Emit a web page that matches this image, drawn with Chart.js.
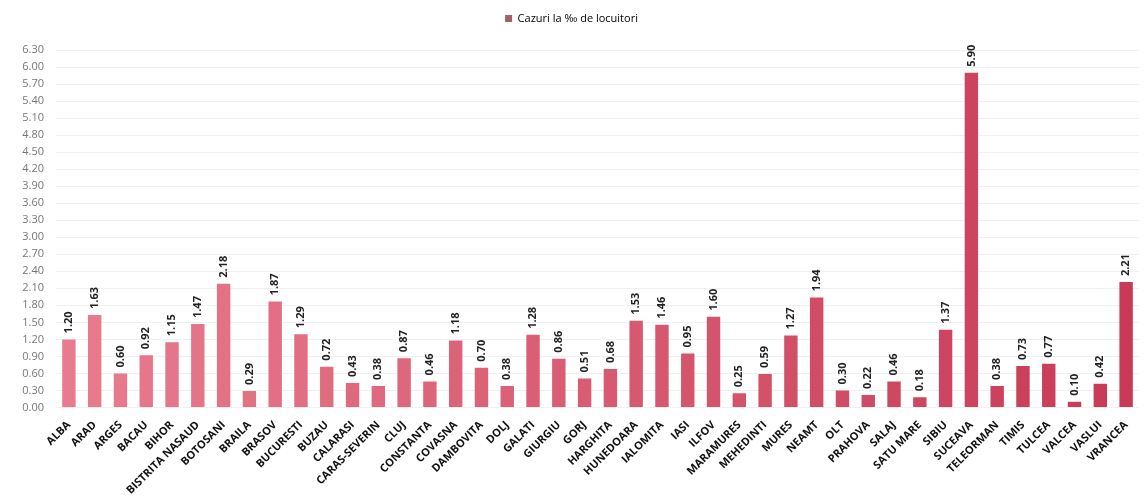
<!DOCTYPE html>
<html>
<head>
<meta charset="utf-8">
<script src="https://cdn.jsdelivr.net/npm/chart.js@4"></script>
<style>
  html, body { margin: 0; padding: 0; background: #fff; }
  #wrap { width: 1145px; height: 500px; }
</style>
</head>
<body>
<div id="wrap"><canvas id="chart"></canvas></div>
<script>
const judete = [
    "ALBA", "ARAD", "ARGES", "BACAU", "BIHOR", "BISTRITA NASAUD", "BOTOSANI",
    "BRAILA", "BRASOV", "BUCURESTI", "BUZAU", "CALARASI", "CARAS-SEVERIN", "CLUJ",
    "CONSTANTA", "COVASNA", "DAMBOVITA", "DOLJ", "GALATI", "GIURGIU", "GORJ",
    "HARGHITA", "HUNEDOARA", "IALOMITA", "IASI", "ILFOV", "MARAMURES", "MEHEDINTI",
    "MURES", "NEAMT", "OLT", "PRAHOVA", "SALAJ", "SATU MARE", "SIBIU", "SUCEAVA",
    "TELEORMAN", "TIMIS", "TULCEA", "VALCEA", "VASLUI", "VRANCEA"
];
const cazuri = [
    1.20, 1.63, 0.60, 0.92, 1.15, 1.47, 2.18,
    0.29, 1.87, 1.29, 0.72, 0.43, 0.38, 0.87,
    0.46, 1.18, 0.70, 0.38, 1.28, 0.86, 0.51,
    0.68, 1.53, 1.46, 0.95, 1.60, 0.25, 0.59,
    1.27, 1.94, 0.30, 0.22, 0.46, 0.18, 1.37, 5.90,
    0.38, 0.73, 0.77, 0.10, 0.42, 2.21
];
const yTicks = [0, 0.3, 0.6, 0.9, 1.2, 1.5, 1.8, 2.1, 2.4, 2.7, 3.0, 3.3, 3.6,
    3.9, 4.2, 4.5, 4.8, 5.1, 5.4, 5.7, 6.0, 6.3];

// pink on the left, darker red to the right
function barColor(i, n) {
    const t = i / (n - 1);
    const from = [232, 124, 142], to = [200, 58, 86];
    const c = from.map((v, k) => Math.round(v + (to[k] - v) * t));
    return `rgb(${c[0]}, ${c[1]}, ${c[2]})`;
}
const colors = cazuri.map((_, i) => barColor(i, cazuri.length));

// extra room under the legend
const legendSpace = {
    id: "legendSpace",
    beforeInit(chart) {
        const fit = chart.legend.fit;
        chart.legend.fit = function () {
            fit.call(this);
            this.height += 16;
        };
    }
};

const valueLabels = {
    id: "valueLabels",
    afterDatasetsDraw(chart) {
        const ctx = chart.ctx;
        const meta = chart.getDatasetMeta(0);
        ctx.save();
        ctx.font = "bold 11px 'Open Sans', sans-serif";
        ctx.fillStyle = "#222";
        ctx.textAlign = "left";
        ctx.textBaseline = "middle";
        meta.data.forEach((bar, i) => {
            ctx.save();
            ctx.translate(bar.x, bar.y - 6);
            ctx.rotate(-Math.PI / 2);
            ctx.fillText(cazuri[i].toFixed(2), 0, 0);
            ctx.restore();
        });
        ctx.restore();
    }
};

new Chart(document.getElementById("chart"), {
    type: "bar",
    data: {
        labels: judete,
        datasets: [{
            label: "Cazuri la ‰ de locuitori",
            data: cazuri,
            backgroundColor: colors,
            borderWidth: 0,
            barPercentage: 0.52,
            categoryPercentage: 1.0,
        }]
    },
    options: {
        responsive: true,
        maintainAspectRatio: false,
        animation: false,
        layout: { padding: { left: 4, right: 6, top: 0, bottom: 0 } },
        plugins: {
            legend: {
                display: true,
                position: "top",
                labels: {
                    boxWidth: 7,
                    boxHeight: 7,
                    color: "#777",
                    font: { size: 11, family: "'Open Sans', sans-serif" },
                    padding: 13,
                    generateLabels: () => [{
                        text: "Cazuri la ‰ de locuitori",
                        fillStyle: "#a0606c",
                        strokeStyle: "#a0606c",
                        lineWidth: 0,
                    }],
                },
            },
            tooltip: { enabled: false },
        },
        scales: {
            x: {
                grid: { display: false },
                border: { display: false },
                ticks: {
                    minRotation: 45,
                    maxRotation: 45,
                    autoSkip: false,
                    color: "#111",
                    padding: 3,
                    font: { size: 11, weight: "bold", family: "'Open Sans', sans-serif" },
                },
            },
            y: {
                min: 0,
                max: 6.3,
                afterBuildTicks: (axis) => {
                    axis.ticks = yTicks.map((v) => ({ value: v }));
                },
                afterFit: (axis) => { axis.width = 52; },
                grid: { color: "#f0f0f0", drawTicks: false },
                border: { display: false },
                ticks: {
                    color: "#777",
                    padding: 12,
                    font: { size: 11, family: "'Open Sans', sans-serif" },
                    callback: (v) => Number(v).toFixed(2),
                },
            },
        },
    },
    plugins: [legendSpace, valueLabels],
});
</script>
</body>
</html>
